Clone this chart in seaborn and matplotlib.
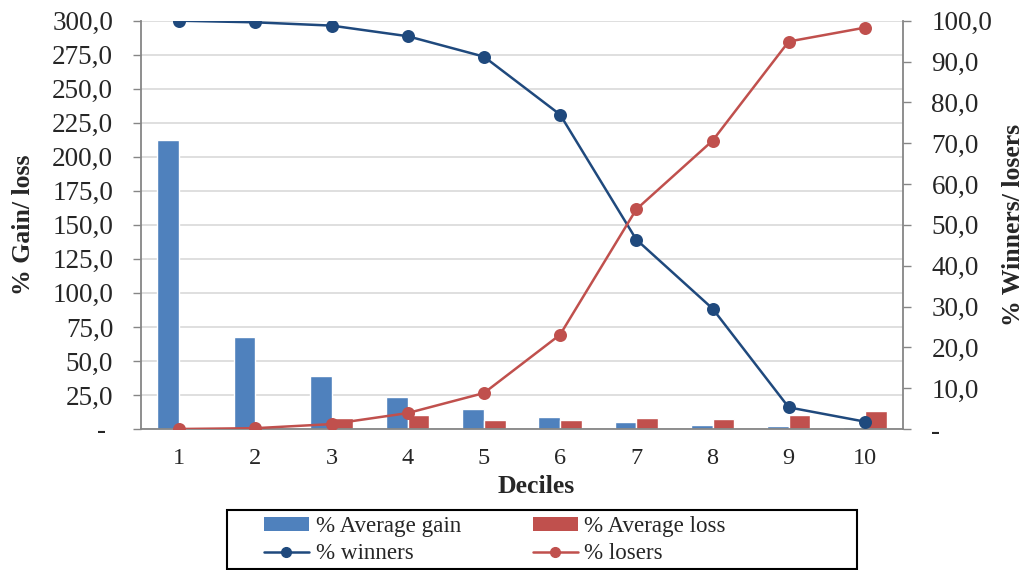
import numpy as np
import pandas as pd
import matplotlib
matplotlib.use("Agg")
import matplotlib.pyplot as plt
from matplotlib.patches import Patch, Rectangle
from matplotlib.lines import Line2D
import seaborn as sns

# ---- data ----
deciles = ["1", "2", "3", "4", "5", "6", "7", "8", "9", "10"]
avg_gain = [212.2, 67.8, 38.6, 23.2, 14.4, 8.8, 5.1, 2.9, 2.5, 1.2]
avg_loss = [0.0, 0.0, 8.1, 10.3, 6.6, 6.9, 8.1, 7.1, 10.6, 13.0]
winners = [100.0, 99.6, 98.8, 96.2, 91.2, 77.0, 46.4, 29.5, 5.3, 1.8]
losers = [0.0, 0.2, 1.2, 3.9, 8.8, 23.1, 53.8, 70.6, 94.9, 98.3]
left_ticks = [0, 25, 50, 75, 100, 125, 150, 175, 200, 225, 250, 275, 300]
right_ticks = [0, 10, 20, 30, 40, 50, 60, 70, 80, 90, 100]
bar_series = ["% Average gain", "% Average loss"]
line_series = ["% winners", "% losers"]

bars_df = pd.DataFrame({
    "Decile": deciles * 2,
    "value": avg_gain + avg_loss,
    "Series": [bar_series[0]] * len(deciles) + [bar_series[1]] * len(deciles),
})
lines_df = pd.DataFrame({
    "Decile": deciles * 2,
    "value": winners + losers,
    "Series": [line_series[0]] * len(deciles) + [line_series[1]] * len(deciles),
})

BLUE = "#4F81BD"
RED = "#C0504D"
NAVY = "#1F497D"
GREY = "#868686"
GRID = "#D9D9D9"

sns.set_style("white")
plt.rcParams["font.family"] = ["Liberation Serif", "DejaVu Serif"]

fig = plt.figure(figsize=(10.24, 5.70), dpi=100)
ax = fig.add_axes([141 / 1024, 1 - 429 / 570, 762 / 1024, 408.3 / 570])
ax2 = ax.twinx()

sns.barplot(data=bars_df, x="Decile", y="value", hue="Series", order=deciles,
            hue_order=bar_series, palette=[BLUE, RED], width=0.57,
            saturation=1, errorbar=None, legend=False, ax=ax, zorder=2)

sns.pointplot(data=lines_df, x="Decile", y="value", hue="Series", order=deciles,
              hue_order=line_series, palette=[NAVY, RED], markers="o",
              linestyles="-", errorbar=None, legend=False, ax=ax2,
              markersize=8, linewidth=1.8)

# ---- axes formatting ----
def fmt(v):
    return "- " if v == 0 else f"{v:.1f}".replace(".", ",")

ax.set_ylim(0, 300)
ax.set_yticks(left_ticks)
ax.set_yticklabels([fmt(v) for v in left_ticks])
ax2.set_ylim(0, 100)
ax2.set_yticks(right_ticks)
ax2.set_yticklabels([fmt(v).strip() for v in right_ticks])

ax.set_xlim(-0.5, len(deciles) - 0.5)
ax.set_xticks(range(len(deciles)))
ax.set_xticklabels(deciles)
ax.set_xticks(np.arange(-0.5, len(deciles), 1.0), minor=True)

ax.yaxis.grid(True, color=GRID, linewidth=1.2, zorder=0)
ax.xaxis.grid(False)
ax.set_axisbelow(True)
ax2.grid(False)

ax.tick_params(axis="x", which="major", length=0, pad=13.5, labelsize=17.5)
ax.tick_params(axis="x", which="minor", length=6, width=1, color=GREY, direction="out")
ax.tick_params(axis="y", length=6, width=1, color=GREY, direction="out",
               pad=14, labelsize=19.5, left=True)
ax2.tick_params(axis="y", length=6, width=1, color=GREY, direction="out",
                pad=14.5, labelsize=19.5, right=True)

for a in (ax, ax2):
    a.spines["top"].set_visible(False)
    for s in ("left", "right", "bottom"):
        a.spines[s].set_color(GREY)
        a.spines[s].set_linewidth(1.3)
ax.spines["right"].set_visible(False)
ax2.spines["left"].set_visible(False)
ax2.spines["bottom"].set_visible(False)

ax.set_xlabel("Deciles", fontsize=18.5, fontweight="bold", va="center")
ax.xaxis.set_label_coords(0.518, -0.14)
ax.set_ylabel("% Gain/ loss", fontsize=18.5, fontweight="bold", va="center")
ax.yaxis.set_label_coords(-0.154, 0.5)
ax2.set_ylabel("% Winners/ losers", fontsize=18.5, fontweight="bold", va="center",
               rotation=90)
ax2.yaxis.set_label_coords(1.145, 0.5)

# ---- legend ----
handles = [
    Patch(facecolor=BLUE, edgecolor="none"),
    Line2D([], [], color=NAVY, linewidth=1.8, marker="o", markersize=7),
    Patch(facecolor=RED, edgecolor="none"),
    Line2D([], [], color=RED, linewidth=1.8, marker="o", markersize=7),
]
labels = [bar_series[0], line_series[0], bar_series[1], line_series[1]]
leg = fig.legend(handles, labels, loc="center left",
                 bbox_to_anchor=(264 / 1024, 1 - 540 / 570), ncol=2,
                 frameon=False, fontsize=16.6, borderpad=0, borderaxespad=0,
                 handlelength=1.95, handleheight=0.5, handletextpad=0.3,
                 columnspacing=3.1, labelspacing=0.25)
fig.add_artist(Rectangle((227 / 1024, 1 - 569 / 570), 630 / 1024, 59 / 570,
                         transform=fig.transFigure, fill=False,
                         edgecolor="black", linewidth=1.5))

fig.savefig("out.png", dpi=100)
